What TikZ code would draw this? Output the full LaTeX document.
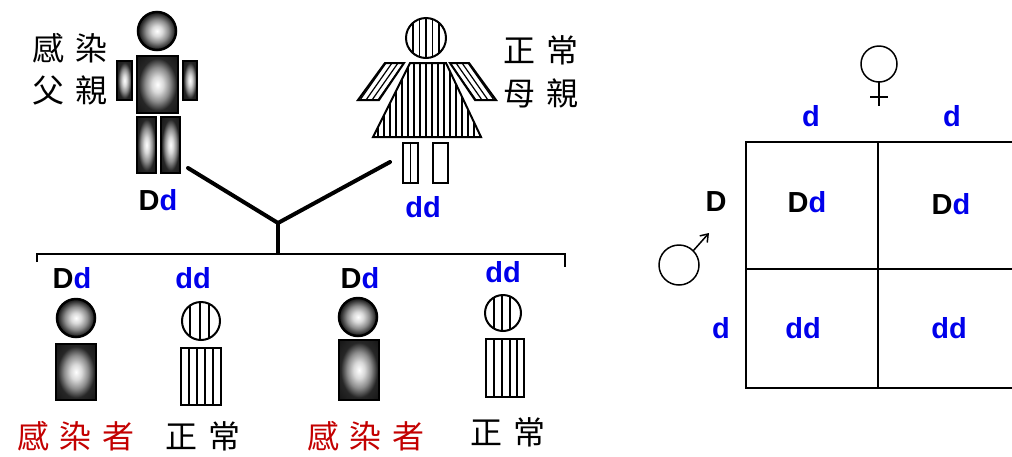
\documentclass[tikz,border=0pt]{standalone}
\usepackage{fontspec}
\newfontfamily\gf{Liberation Sans}
\newfontfamily\cjk{Noto Sans CJK TC}
\usetikzlibrary{arrows.meta}
\definecolor{gblue}{RGB}{0,0,235}
\definecolor{sickred}{RGB}{195,0,0}
% dark rim fading to a white centre, used for the affected figures
\pgfdeclareradialshading{glow}{\pgfpoint{0bp}{0bp}}{color(0bp)=(white); color(7bp)=(white!85!black); color(15bp)=(black!45); color(23bp)=(black!85); color(50bp)=(black)}
\newcommand\cgap{\hspace{11pt}}

\begin{document}
\begin{tikzpicture}[x=1pt,y=-1pt,
  gen/.style={font=\gf\bfseries\fontsize{29}{29}\selectfont, inner sep=0pt},
  hanzi/.style={font=\cjk\fontsize{32}{32}\selectfont, inner sep=0pt},
  sick/.style={shading=glow, draw=black, line width=2.5pt},
  outline/.style={draw=black, line width=2pt},
  stripe/.style={line width=1.2pt},
  link/.style={line width=4pt, line join=round, line cap=round},
  bar/.style={line width=2pt},
  grid/.style={line width=2pt, line cap=rect},
  sym/.style={line width=1.5pt}]
\useasboundingbox (0,0) rectangle (1012,456);
\clip (0,0) rectangle (1012,456);

% ---------------- father (affected) ----------------
\shadedraw[sick] (157,31) circle[radius=19pt];
\shadedraw[sick] (137,56) rectangle (178,113);
\shadedraw[sick] (117,61) rectangle (132,100);
\shadedraw[sick] (183,61) rectangle (197,100);
\shadedraw[sick] (137,117) rectangle (156,173);
\shadedraw[sick] (161,117) rectangle (180,173);
\node[hanzi] (dadA) at (70,48) {感\cgap 染};
\node[hanzi] (dadB) at (70,90) {父\cgap 親};
\node[gen] (dadG) at (158,200) {D\textcolor{gblue}{d}};

% ---------------- mother (normal) ----------------
\begin{scope}
  \clip (426,38) circle[radius=20pt];
  \foreach \x in {413,419.5,...,440} \draw[stripe] (\x,15) -- (\x,60);
\end{scope}
\draw[outline] (426,38) circle[radius=20pt];
\begin{scope}
  \clip (410,63) -- (446,63) -- (481,137) -- (373,137) -- cycle;
  \foreach \x in {378,384,...,480} \draw[stripe] (\x,60) -- (\x,140);
\end{scope}
\draw[outline] (410,63) -- (446,63) -- (481,137) -- (373,137) -- cycle;
\begin{scope}
  \clip (385,63) -- (404,63) -- (379,100) -- (358,100) -- cycle;
  \foreach \x in {380,386,...,412} \draw[stripe] (\x+3.5,58) -- (\x-29.5,105);
\end{scope}
\draw[outline] (385,63) -- (404,63) -- (379,100) -- (358,100) -- cycle;
\begin{scope}
  \clip (450,63) -- (469,63) -- (496,100) -- (475,100) -- cycle;
  \foreach \x in {444,450,...,476} \draw[stripe] (\x-3.5,58) -- (\x+29.5,105);
\end{scope}
\draw[outline] (450,63) -- (469,63) -- (496,100) -- (475,100) -- cycle;
\draw[outline] (403,143) rectangle (418,183);
\draw[stripe] (410.5,143) -- (410.5,183);
\draw[outline] (433,143) rectangle (448,183);
\node[hanzi] (momA) at (541,50) {正\cgap 常};
\node[hanzi] (momB) at (541,93) {母\cgap 親};
\node[gen, text=gblue] (momG) at (423,207) {dd};

% ---------------- lines of descent ----------------
\coordinate (dadlink) at (188,168);
\coordinate (momlink) at (390,162);
\coordinate (fork) at (278,223);
\coordinate (forkbase) at (278,254);
\coordinate (barL) at (37,254);
\coordinate (barR) at (565,254);
\draw[link] (dadlink) -- (fork) -- (momlink);
\draw[line width=3.5pt] (fork) -- (forkbase);
\draw[bar] ([yshift=-8pt]barL) -- (barL) -- (barR) -- ([yshift=-13pt]barR);

% ---------------- children ----------------
% first child, affected
\node[gen] (c1g) at (72,278) {D\textcolor{gblue}{d}};
\shadedraw[sick] (76,318) circle[radius=19pt];
\shadedraw[sick] (56,344) rectangle (96,400);
\node[hanzi, text=sickred] (c1t) at (76,436) {感\cgap 染\cgap 者};

% second child, normal
\node[gen, text=gblue] (c2g) at (193,278) {dd};
\begin{scope}
  \clip (201,321) circle[radius=19pt];
  \foreach \x in {190,200,209} \draw[stripe] (\x,300) -- (\x,342);
\end{scope}
\draw[outline] (201,321) circle[radius=19pt];
\begin{scope}
  \clip (181,348) rectangle (221,405);
  \foreach \x in {189,197,205,213} \draw[stripe] (\x,345) -- (\x,408);
\end{scope}
\draw[outline] (181,348) rectangle (221,405);
\node[hanzi] (c2t) at (203,436) {正\cgap 常};

% third child, affected
\node[gen] (c3g) at (360,278) {D\textcolor{gblue}{d}};
\shadedraw[sick] (358,317) circle[radius=19pt];
\shadedraw[sick] (339,340) rectangle (379,400);
\node[hanzi, text=sickred] (c3t) at (366,436) {感\cgap 染\cgap 者};

% fourth child, normal
\node[gen, text=gblue] (c4g) at (503,272) {dd};
\begin{scope}
  \clip (503,313) circle[radius=18pt];
  \foreach \x in {494,502,510} \draw[stripe] (\x,292) -- (\x,334);
\end{scope}
\draw[outline] (503,313) circle[radius=18pt];
\begin{scope}
  \clip (486,339) rectangle (524,397);
  \foreach \x in {494,502,510,517} \draw[stripe] (\x,336) -- (\x,400);
\end{scope}
\draw[outline] (486,339) rectangle (524,397);
\node[hanzi] (c4t) at (508,432) {正\cgap 常};

% ---------------- Punnett square ----------------
\coordinate (sqTL) at (746,142);
\coordinate (sqTM) at (878,142);
\coordinate (sqML) at (746,269);
\coordinate (sqBL) at (746,388);
\coordinate (sqBM) at (878,388);
\draw[grid] (sqTL) -- (1016,142);
\draw[grid] (sqML) -- (1016,269);
\draw[grid] (sqBL) -- (1016,388);
\draw[grid] (sqTL) -- (sqBL);
\draw[grid] (sqTM) -- (sqBM);

\node[gen, text=gblue] (eggA) at (811,116) {d};
\node[gen, text=gblue] (eggB) at (952,116) {d};
\node[gen] (spermA) at (716,202) {D};
\node[gen, text=gblue] (spermB) at (721,328) {d};
\node[gen] (cellA) at (807,202) {D\textcolor{gblue}{d}};
\node[gen] (cellB) at (951,204) {D\textcolor{gblue}{d}};
\node[gen, text=gblue] (cellC) at (803,328) {dd};
\node[gen, text=gblue] (cellD) at (949,328) {dd};

% female sign
\draw[sym] (879,64) circle[radius=18pt];
\draw[sym] (879,82) -- (879,106);
\draw[sym] (870,97) -- (888,97);
% male sign
\draw[sym] (679,265) circle[radius=20pt];
\draw[sym, -{Straight Barb[length=7pt,width=10pt]}] (693,251) -- (709,233);
\end{tikzpicture}
\end{document}
